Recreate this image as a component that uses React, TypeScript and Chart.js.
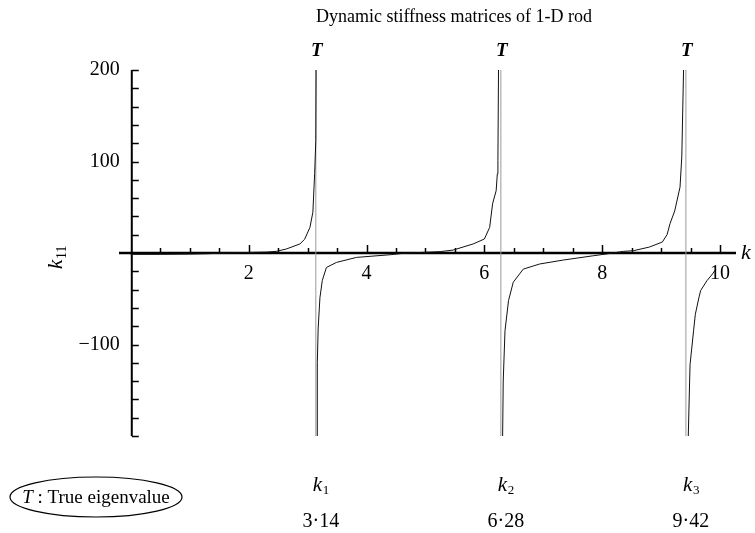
import React, { useEffect, useRef } from 'react';
import { Chart, registerables } from 'chart.js';

Chart.register(...registerables);

// ---- data ----
const titleText = 'Dynamic stiffness matrices of 1-D rod';

// branch 0 < k < k1
const b1K = [0, 0.5, 1.0, 1.3, 1.6, 2.0, 2.3, 2.47, 2.64, 2.87, 2.95, 3.04, 3.09, 3.12, 3.14, 3.145];
const b1V = [-1.5, -1.5, -1.2, -0.8, 0, 0.6, 1.0, 1.8, 4.4, 9.9, 15, 28, 44.6, 87, 123, 200];

// branch k1 < k < k2
const b2K = [3.16, 3.165, 3.18, 3.21, 3.25, 3.32, 3.49, 3.83, 4.4, 4.6, 5.0, 5.25, 5.47, 5.81, 6.0, 6.09, 6.14, 6.2, 6.22, 6.23, 6.24];
const b2V = [-200, -120, -82, -48.7, -30, -15.8, -10.3, -4.8, -1.9, -0.5, 0.8, 1.5, 3.2, 9.9, 15.3, 28, 54, 68, 86.6, 101, 200];

// branch k2 < k < k3
const b3K = [6.31, 6.32, 6.35, 6.41, 6.49, 6.66, 6.94, 7.34, 7.85, 8.1, 8.36, 8.53, 8.8, 9.02, 9.1, 9.15, 9.23, 9.32, 9.35, 9.38];
const b3V = [-200, -140, -85, -52, -32, -17.6, -12, -7.7, -3, -0.8, 1.8, 2.5, 6.5, 12, 20, 32, 46, 72, 105, 200];

// branch k > k3
const b4K = [9.46, 9.49, 9.55, 9.58, 9.64, 9.67, 9.78, 9.87, 9.93];
const b4V = [-200, -122, -85, -67, -49, -41, -30, -23, -17.6];

// true eigenvalues
const eigenK = [3.14, 6.28, 9.42];
const eigenNames = ['1', '2', '3'];
const eigenTexts = ['3·14', '6·28', '9·42'];

// axes
const xRange = [-0.2, 10.27];
const yRange = [-200, 200];
const xTickLabels = [2, 4, 6, 8, 10];
const yTickLabels = [200, 100, -100];
const xMinorStep = 0.5;
const yMinorStep = 20;

const SERIF = '"Liberation Serif", "DejaVu Serif", serif';

function pts(ks: number[], vs: number[]) {
  return ks.map((k, i) => ({ x: k, y: vs[i] }));
}

const overlay = {
  id: 'overlay',
  beforeDatasetsDraw(chart: any) {
    const { ctx, chartArea, scales } = chart;
    const xs = scales.x;
    const ys = scales.y;
    const x0 = xs.getPixelForValue(0) + 1;
    const y0 = ys.getPixelForValue(0);
    ctx.save();
    ctx.strokeStyle = '#000';
    // x axis
    ctx.lineWidth = 2.5;
    ctx.beginPath();
    ctx.moveTo(chartArea.left, y0);
    ctx.lineTo(chartArea.right, y0);
    ctx.stroke();
    // y axis
    ctx.lineWidth = 2;
    ctx.beginPath();
    ctx.moveTo(x0, ys.getPixelForValue(yRange[1]));
    ctx.lineTo(x0, ys.getPixelForValue(yRange[0]));
    ctx.stroke();
    // y ticks (inward)
    ctx.lineWidth = 1.5;
    for (let v = yRange[0]; v <= yRange[1] + 0.001; v += yMinorStep) {
      if (Math.abs(v) < 0.001) continue;
      const py = Math.round(ys.getPixelForValue(v)) + 0.5;
      ctx.beginPath();
      ctx.moveTo(x0, py);
      ctx.lineTo(x0 + 7, py);
      ctx.stroke();
    }
    // x ticks (upward)
    for (let v = xMinorStep; v <= 10 + 0.001; v += xMinorStep) {
      const px = Math.round(xs.getPixelForValue(v)) + 0.5;
      const major = xTickLabels.some((t) => Math.abs(t - v) < 0.001);
      ctx.beginPath();
      ctx.moveTo(px, y0);
      ctx.lineTo(px, y0 - (major ? 8 : 5));
      ctx.stroke();
    }
    ctx.restore();
  },
  afterDraw(chart: any) {
    const { ctx, scales } = chart;
    const xs = scales.x;
    const ys = scales.y;
    const x0 = xs.getPixelForValue(0) + 1;
    const y0 = ys.getPixelForValue(0);
    ctx.save();
    ctx.fillStyle = '#000';
    ctx.textBaseline = 'middle';

    // title
    ctx.font = `18px ${SERIF}`;
    ctx.textAlign = 'center';
    ctx.fillText(titleText, 454, 17);

    // y tick labels
    ctx.font = `20px ${SERIF}`;
    ctx.textAlign = 'right';
    yTickLabels.forEach((v) => {
      const s = v < 0 ? '\u2212' + Math.abs(v) : String(v);
      ctx.fillText(s, x0 - 12, ys.getPixelForValue(v));
    });
    // x tick labels
    ctx.textAlign = 'center';
    xTickLabels.forEach((v) => {
      ctx.fillText(String(v), xs.getPixelForValue(v), y0 + 21);
    });

    // axis label k
    ctx.font = `italic 22px ${SERIF}`;
    ctx.textAlign = 'left';
    ctx.fillText('k', 741, y0);

    // y label k11 rotated
    ctx.save();
    ctx.translate(56, y0 + 4);
    ctx.rotate(-Math.PI / 2);
    ctx.font = `italic 21px ${SERIF}`;
    ctx.textAlign = 'left';
    ctx.fillText('k', -12, 0);
    ctx.font = `14px ${SERIF}`;
    ctx.fillText('11', -2, 6);
    ctx.restore();

    // T labels and eigen annotations
    eigenK.forEach((k, i) => {
      const px = xs.getPixelForValue(k);
      ctx.font = `bold italic 19px ${SERIF}`;
      ctx.textAlign = 'center';
      ctx.fillText('T', px + 1, 51);

      ctx.font = `italic 21px ${SERIF}`;
      ctx.textAlign = 'left';
      ctx.fillText('k', px - 3, 485);
      ctx.font = `13px ${SERIF}`;
      ctx.fillText(eigenNames[i], px + 7, 491);

      ctx.font = `20px ${SERIF}`;
      ctx.textAlign = 'center';
      ctx.fillText(eigenTexts[i], px + 5, 522);
    });

    // legend ellipse
    ctx.lineWidth = 1.2;
    ctx.strokeStyle = '#000';
    ctx.beginPath();
    ctx.ellipse(96, 497, 86, 20, 0, 0, Math.PI * 2);
    ctx.stroke();
    ctx.textAlign = 'left';
    ctx.font = `italic 19px ${SERIF}`;
    const tW = ctx.measureText('T').width;
    ctx.font = `19px ${SERIF}`;
    const rest = ' : True eigenvalue';
    const rW = ctx.measureText(rest).width;
    const startX = 96 - (tW + rW) / 2;
    ctx.font = `italic 19px ${SERIF}`;
    ctx.fillText('T', startX, 498);
    ctx.font = `19px ${SERIF}`;
    ctx.fillText(rest, startX + tW, 498);

    ctx.restore();
  },
};

export default function App() {
  const ref = useRef<HTMLCanvasElement | null>(null);
  useEffect(() => {
    if (!ref.current) return;
    const curve = (ks: number[], vs: number[]) => ({
      data: pts(ks, vs),
      showLine: true,
      borderColor: '#111',
      borderWidth: 1,
      pointRadius: 0,
      tension: 0,
      fill: false,
      order: 1,
    });
    const tLines = eigenK.map((k) => ({
      data: [
        { x: k, y: yRange[0] },
        { x: k, y: yRange[1] },
      ],
      showLine: true,
      borderColor: '#9a9a9a',
      borderWidth: 1,
      pointRadius: 0,
      fill: false,
      order: 2,
    }));
    const chart = new Chart(ref.current, {
      type: 'scatter',
      data: {
        datasets: [
          ...tLines,
          curve(b1K, b1V),
          curve(b2K, b2V),
          curve(b3K, b3V),
          curve(b4K, b4V),
        ] as any,
      },
      options: {
        animation: false,
        responsive: false,
        devicePixelRatio: 1,
        layout: { padding: { left: 119, right: 19, top: 70, bottom: 97 } },
        plugins: { legend: { display: false }, tooltip: { enabled: false }, title: { display: false } },
        scales: {
          x: { type: 'linear', min: xRange[0], max: xRange[1], display: false },
          y: { type: 'linear', min: yRange[0], max: yRange[1], display: false },
        },
      },
      plugins: [overlay],
    });
    return () => chart.destroy();
  }, []);
  return (
    <div style={{ position: 'fixed', left: 0, top: 0, width: 755, height: 533, background: '#fff' }}>
      <canvas ref={ref} width={755} height={533} />
    </div>
  );
}
